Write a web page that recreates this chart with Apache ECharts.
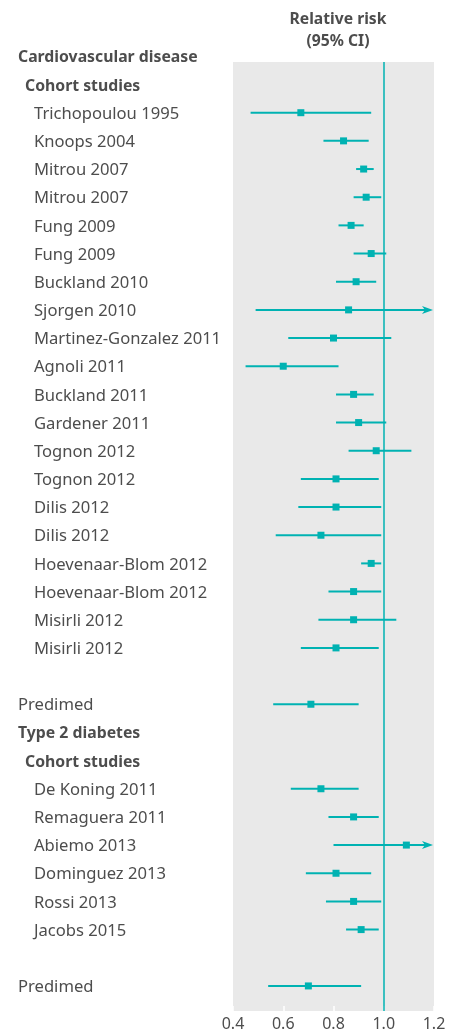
<!DOCTYPE html>
<html>
<head>
<meta charset="utf-8">
<script src="https://cdn.jsdelivr.net/npm/echarts@6/dist/echarts.min.js"></script>
<style>
html,body{margin:0;padding:0;background:#fff;}
#c{width:460px;height:1032px;}
</style>
</head>
<body>
<div id="c"></div>
<script>
// ---- data ----
const rowLabels = [
  'Cardiovascular disease', 'Cohort studies',
  'Trichopoulou 1995', 'Knoops 2004', 'Mitrou 2007', 'Mitrou 2007',
  'Fung 2009', 'Fung 2009', 'Buckland 2010', 'Sjorgen 2010',
  'Martinez-Gonzalez 2011', 'Agnoli 2011', 'Buckland 2011', 'Gardener 2011',
  'Tognon 2012', 'Tognon 2012', 'Dilis 2012', 'Dilis 2012',
  'Hoevenaar-Blom 2012', 'Hoevenaar-Blom 2012', 'Misirli 2012', 'Misirli 2012',
  '', 'Predimed',
  'Type 2 diabetes', 'Cohort studies',
  'De Koning 2011', 'Remaguera 2011', 'Abiemo 2013', 'Dominguez 2013',
  'Rossi 2013', 'Jacobs 2015', '', 'Predimed'
];
// 0 = section heading, 1 = sub heading, 2 = cohort study, 3 = trial
const rowLevels = [
  0, 1,
  2, 2, 2, 2, 2, 2, 2, 2, 2, 2, 2, 2, 2, 2, 2, 2, 2, 2, 2, 2,
  3, 3,
  0, 1,
  2, 2, 2, 2, 2, 2, 3, 3
];
const relRisk = [
  null, null,
  0.67, 0.84, 0.92, 0.93, 0.87, 0.95, 0.89, 0.86, 0.80, 0.60, 0.88, 0.90,
  0.97, 0.81, 0.81, 0.75, 0.95, 0.88, 0.88, 0.81,
  null, 0.71,
  null, null,
  0.75, 0.88, 1.09, 0.81, 0.88, 0.91, null, 0.70
];
const ciLower = [
  null, null,
  0.47, 0.76, 0.89, 0.88, 0.82, 0.88, 0.81, 0.49, 0.62, 0.45, 0.81, 0.81,
  0.86, 0.67, 0.66, 0.57, 0.91, 0.78, 0.74, 0.67,
  null, 0.56,
  null, null,
  0.63, 0.78, 0.80, 0.69, 0.77, 0.85, null, 0.54
];
const ciUpper = [
  null, null,
  0.95, 0.94, 0.96, 0.99, 0.92, 1.01, 0.97, 1.50, 1.03, 0.82, 0.96, 1.01,
  1.11, 0.98, 0.99, 0.99, 0.99, 0.99, 1.05, 0.98,
  null, 0.90,
  null, null,
  0.90, 0.98, 1.48, 0.95, 0.99, 0.98, null, 0.91
];
const xTicks = [0.4, 0.6, 0.8, 1.0, 1.2];
const nullValue = 1.0;

// ---- chart ----
const TEAL = '#00B2B2';
const TEXT = '#4d4d4d';
const FONT = '"Noto Sans", sans-serif';
const X_MIN = xTicks[0], X_MAX = xTicks[xTicks.length - 1];

const forestData = [];
relRisk.forEach((v, i) => {
  if (v != null) forestData.push([i, v, ciLower[i], ciUpper[i]]);
});
const labelData = rowLabels.map((t, i) => [i, rowLevels[i]]);

const chart = echarts.init(document.getElementById('c'), null, {renderer: 'canvas'});
chart.setOption({
  animation: false,
  title: {
    text: 'Relative risk\n(95% CI)',
    left: 333, top: 4, textAlign: 'center',
    textStyle: {fontFamily: FONT, fontSize: 15.7, fontWeight: 'bold', color: TEXT, lineHeight: 22}
  },
  grid: {
    left: 233, right: 26, top: 62, bottom: 20,
    show: true, backgroundColor: '#E9E9E9', borderWidth: 0
  },
  xAxis: {
    type: 'value', min: X_MIN, max: X_MAX, interval: 0.2,
    axisLine: {show: false},
    axisTick: {show: true, inside: true, length: 5, lineStyle: {color: '#ffffff', width: 1.5}},
    splitLine: {show: false},
    axisLabel: {
      margin: 5, fontFamily: FONT, fontSize: 16, color: TEXT,
      formatter: v => v.toFixed(1)
    }
  },
  yAxis: {
    type: 'value', inverse: true, min: 0.2, max: 33.89,
    show: false, splitLine: {show: false}
  },
  series: [
    {
      type: 'custom',
      name: 'labels',
      clip: false,
      silent: true,
      data: labelData,
      renderItem: (params, api) => {
        const i = api.value(0);
        const lvl = api.value(1);
        const y = api.coord([X_MIN, i])[1] + 1.5;
        const x = [18, 25, 34, 18][lvl];
        const bold = lvl < 2;
        return {
          type: 'text',
          style: {
            x: x, y: y,
            text: rowLabels[i],
            textAlign: 'left', textVerticalAlign: 'middle',
            font: (bold ? 'bold 15.8px ' : '16.6px ') + FONT,
            fill: TEXT
          }
        };
      }
    },
    {
      type: 'custom',
      name: 'forest',
      clip: false,
      silent: true,
      data: forestData,
      renderItem: (params, api) => {
        const i = api.value(0);
        const p = api.coord([api.value(1), i]);
        const lo = api.coord([Math.max(api.value(2), X_MIN), i]);
        const hiVal = api.value(3);
        const clipped = hiVal > X_MAX;
        const hi = api.coord([Math.min(hiVal, X_MAX), i]);
        const children = [];
        children.push({
          type: 'line',
          shape: {x1: lo[0], y1: lo[1], x2: clipped ? hi[0] - 6 : hi[0], y2: hi[1]},
          style: {stroke: TEAL, lineWidth: 2}
        });
        if (clipped) {
          children.push({
            type: 'polygon',
            shape: {points: [[hi[0] - 1, hi[1]], [hi[0] - 12, hi[1] - 4], [hi[0] - 9, hi[1]], [hi[0] - 12, hi[1] + 4]]},
            style: {fill: TEAL}
          });
        }
        children.push({
          type: 'rect',
          shape: {x: p[0] - 3.5, y: p[1] - 3.5, width: 7, height: 7},
          style: {fill: TEAL}
        });
        return {type: 'group', children: children};
      },
      markLine: {
        silent: true,
        symbol: 'none',
        label: {show: false},
        lineStyle: {color: TEAL, width: 1.5, type: 'solid'},
        data: [{xAxis: nullValue}]
      }
    }
  ]
});
</script>
</body>
</html>
